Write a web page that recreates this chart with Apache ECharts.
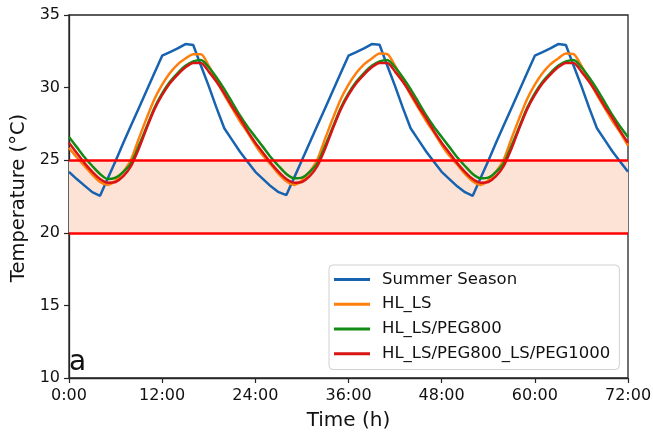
<!DOCTYPE html>
<html>
<head>
<meta charset="utf-8">
<script src="https://cdn.jsdelivr.net/npm/echarts@6/dist/echarts.min.js"></script>
<style>html,body{margin:0;padding:0;background:#fff;}#c{width:653px;height:437px;}</style>
</head>
<body>
<div id="c"></div>
<script>
const hours = [0,1,2,3,4,5,6,7,8,9,10,11,12,13,14,15,16,17,18,19,20,21,22,23,
  24,25,26,27,28,29,30,31,32,33,34,35,36,37,38,39,40,41,42,43,44,45,46,47,
  48,49,50,51,52,53,54,55,56,57,58,59,60,61,62,63,64,65,66,67,68,69,70,71,72];

const summerSeason = [
  24.2,23.7,23.25,22.8,22.55,23.75,24.95,26.2,27.4,28.6,29.8,31.0,32.2,32.45,32.7,33.0,32.93,31.5,30.1,28.6,27.2,26.4,25.6,24.9,
  24.2,23.7,23.2,22.8,22.6,23.8,25.0,26.2,27.4,28.6,29.8,31.0,32.2,32.45,32.7,33.0,32.95,31.5,30.1,28.6,27.2,26.4,25.6,24.9,
  24.2,23.7,23.2,22.8,22.55,23.75,24.95,26.2,27.4,28.6,29.8,31.0,32.2,32.45,32.7,33.0,32.93,31.5,30.1,28.6,27.2,26.4,25.6,24.9,
  24.2];

const hlLs = [
  25.85,25.2,24.6,24.0,23.5,23.3,23.6,24.2,25.05,26.5,27.9,29.2,30.2,31.0,31.6,32.0,32.3,32.3,31.5,30.5,29.5,28.6,27.7,26.9,
  26.05,25.3,24.7,24.05,23.55,23.3,23.6,24.2,25.05,26.5,27.9,29.2,30.2,31.0,31.6,32.0,32.35,32.3,31.5,30.5,29.5,28.6,27.7,26.9,
  26.05,25.3,24.7,24.05,23.55,23.3,23.6,24.2,25.05,26.5,27.9,29.2,30.2,31.0,31.6,32.0,32.35,32.3,31.5,30.5,29.5,28.6,27.7,26.9,
  26.0];

const hlLsPeg800 = [
  26.6,25.9,25.2,24.6,24.05,23.7,23.8,24.2,24.8,26.0,27.3,28.6,29.6,30.4,31.0,31.5,31.8,31.9,31.4,30.7,29.9,29.0,28.1,27.3,
  26.6,25.9,25.2,24.6,24.05,23.75,23.8,24.2,24.8,26.0,27.3,28.6,29.6,30.4,31.0,31.5,31.8,31.9,31.4,30.7,29.9,29.0,28.1,27.3,
  26.6,25.9,25.2,24.6,24.05,23.75,23.8,24.2,24.8,26.0,27.3,28.6,29.6,30.4,31.0,31.5,31.8,31.9,31.4,30.7,29.9,29.0,28.1,27.3,
  26.6];

const hlLsPeg800LsPeg1000 = [
  26.2,25.5,24.8,24.2,23.7,23.45,23.5,23.9,24.6,25.8,27.2,28.5,29.5,30.3,30.9,31.4,31.7,31.7,31.1,30.4,29.6,28.7,27.9,27.0,
  26.2,25.5,24.8,24.2,23.7,23.45,23.5,23.9,24.6,25.8,27.2,28.5,29.5,30.3,30.9,31.4,31.7,31.7,31.1,30.4,29.6,28.7,27.9,27.0,
  26.2,25.5,24.8,24.2,23.7,23.45,23.5,23.9,24.6,25.8,27.2,28.5,29.5,30.3,30.9,31.4,31.7,31.7,31.1,30.4,29.6,28.7,27.9,27.0,
  26.2];

const seriesNames = ['Summer Season','HL_LS','HL_LS/PEG800','HL_LS/PEG800_LS/PEG1000'];
const seriesColors = ['#1763b0','#ff7f0e','#138a13','#d81414'];
const comfortBand = [20, 25];

const allSeries = [summerSeason, hlLs, hlLsPeg800, hlLsPeg800LsPeg1000];

const chart = echarts.init(document.getElementById('c'), null, {renderer:'canvas'});
const FONT = 'DejaVu Sans';

const lineSeries = allSeries.map((vals, i) => ({
  name: seriesNames[i],
  type: 'line',
  data: hours.map((h, k) => [h, vals[k]]),
  showSymbol: false,
  symbol: 'none',
  smooth: i === 0 ? false : 0.25,
  lineStyle: {width: 2.5, color: seriesColors[i]},
  itemStyle: {color: seriesColors[i]},
  z: 3,
  animation: false
}));

const option = {
  animation: false,
  backgroundColor: '#fff',
  grid: {left: 69, right: 25, top: 15, bottom: 59, containLabel: false, outerBoundsMode: 'none',
         show: true, borderColor: '#262626', borderWidth: 1.3, backgroundColor: 'transparent'},
  xAxis: {
    type: 'value', min: 0, max: 72, interval: 12,
    axisLine: {show: true, lineStyle: {color: '#262626', width: 1.3}},
    axisTick: {show: true, inside: false, length: 5, lineStyle: {color: '#262626', width: 1.2}},
    axisLabel: {fontFamily: FONT, fontSize: 16, color: '#111', margin: 10,
                formatter: v => v + ':00'},
    splitLine: {show: false}
  },
  yAxis: {
    type: 'value', min: 10, max: 35, interval: 5,
    axisLine: {show: true, onZero: false, lineStyle: {color: '#262626', width: 1.3}},
    axisTick: {show: true, inside: false, length: 5, lineStyle: {color: '#262626', width: 1.2}},
    axisLabel: {fontFamily: FONT, fontSize: 16, color: '#111', margin: 9},
    splitLine: {show: false}
  },
  legend: {
    data: seriesNames,
    orient: 'vertical',
    left: 329, top: 265,
    icon: 'rect',
    itemWidth: 36, itemHeight: 3,
    itemGap: 4.8,
    padding: [4.4, 9, 5.7, 5],
    backgroundColor: 'rgba(255,255,255,0.85)',
    borderColor: '#d0d0d0', borderWidth: 1, borderRadius: 4,
    textStyle: {fontFamily: FONT, fontSize: 16.5, color: '#111', lineHeight: 20, padding: [0, 0, 0, 7]},
    selectedMode: false
  },
  series: [
    {
      name: 'band', type: 'line', data: [], z: 1, silent: true,
      markArea: {silent: true, itemStyle: {color: '#fde2d6'},
                 data: [[{yAxis: comfortBand[0]}, {yAxis: comfortBand[1]}]]}
    },
    ...lineSeries,
    {
      name: 'limits', type: 'line', data: [], z: 4, silent: true,
      markLine: {silent: true, symbol: 'none', label: {show: false},
                 lineStyle: {color: '#ff0000', width: 2.5, type: 'solid'},
                 data: comfortBand.map(v => ({yAxis: v}))}
    }
  ],
  graphic: [
    {type: 'text', x: 348.5, y: 421, style: {text: 'Time (h)', fontFamily: FONT, fontSize: 20, fill: '#111', align: 'center', verticalAlign: 'middle'}},
    {type: 'text', x: 19, y: 198, rotation: Math.PI/2, style: {text: 'Temperature (°C)', fontFamily: FONT, fontSize: 19.5, fill: '#111', align: 'center', verticalAlign: 'middle'}},
    {type: 'text', x: 69, y: 363, style: {text: 'a', fontFamily: FONT, fontSize: 28, fill: '#111', align: 'left', verticalAlign: 'middle'}, z: 10}
  ]
};
chart.setOption(option);
</script>
</body>
</html>
